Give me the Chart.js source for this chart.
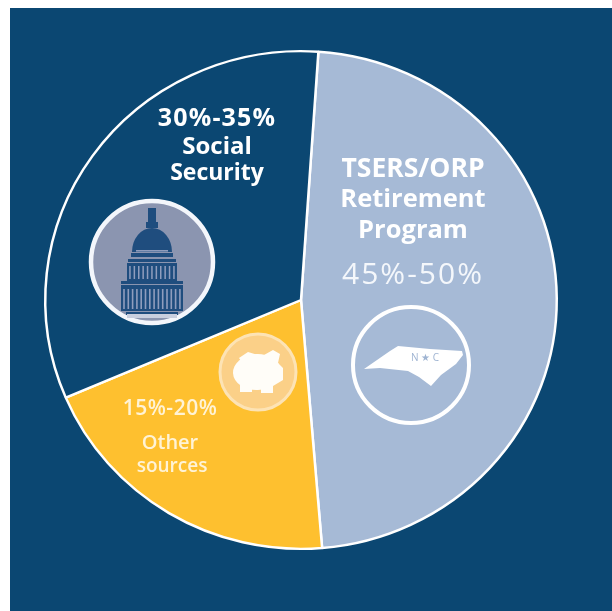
<!DOCTYPE html>
<html>

<head>
    <title>Retirement income sources</title>
    <script src="https://cdn.jsdelivr.net/npm/chart.js"></script>
    <style>
        html, body {
            margin: 0;
            background: #fff;
        }

        .panel {
            position: absolute;
            left: 10px;
            top: 8px;
            width: 602px;
            height: 603px;
            background: #0b4772;
        }

        .chart-wrap {
            position: absolute;
            left: 0;
            top: 0;
            width: 612px;
            height: 611px;
            filter: blur(0.45px);
        }
    </style>
</head>

<body>
    <div class="panel"></div>
    <div class="chart-wrap"><canvas id="myChart"></canvas></div>

    <script>
        // data, clockwise from the top
        const categories = ["TSERS/ORP Retirement Program", "Other sources", "Social Security"];
        const shares = [47.6, 19.9, 32.5];
        const ranges = ["45%-50%", "15%-20%", "30%-35%"];
        const nameLines = [["TSERS/ORP", "Retirement", "Program"], ["Other", "sources"], ["Social", "Security"]];
        const colors = ["#a6bad6", "#fec02f", "#0b4772"];

        const font = '"Open Sans", sans-serif';

        function label(ctx, text, x, y, size, weight, color, spacing) {
            ctx.font = weight + " " + size + "px " + font;
            ctx.letterSpacing = (spacing || 0) + "px";
            ctx.fillStyle = color || "#ffffff";
            ctx.textAlign = "center";
            ctx.textBaseline = "middle";
            ctx.fillText(text, x, y);
            ctx.letterSpacing = "0px";
        }

        function poly(ctx, pts) {
            ctx.beginPath();
            pts.forEach((p, i) => i ? ctx.lineTo(p[0], p[1]) : ctx.moveTo(p[0], p[1]));
            ctx.closePath();
            ctx.fill();
        }

        function ring(ctx, x, y, r, fill, stroke, width) {
            ctx.beginPath();
            ctx.arc(x, y, r, 0, Math.PI * 2);
            if (fill) {
                ctx.fillStyle = fill;
                ctx.fill();
            }
            ctx.lineWidth = width;
            ctx.strokeStyle = stroke;
            ctx.stroke();
        }

        // icon drawn around its own middle
        function capitol(ctx, x, y) {
            const navy = "#1f4d7e";
            ctx.save();
            ctx.translate(x, y);
            ring(ctx, 0, 0, 61, "#8b95b0", "#f3f6fb", 4.5);
            ctx.fillStyle = navy;
            ctx.fillRect(-4, -54, 8, 16);
            ctx.fillRect(-6, -40, 12, 6);
            ctx.beginPath();
            ctx.ellipse(0, -10, 20, 24, 0, Math.PI, 0);
            ctx.closePath();
            ctx.fill();
            ctx.fillRect(-21, -9, 42, 4);
            ctx.fillRect(-24, -3, 48, 3);
            ctx.fillRect(-25, 1, 50, 18);
            ctx.fillRect(-31, 19, 62, 3);
            ctx.fillRect(-31, 23, 62, 26);
            ctx.fillRect(-26, 50, 52, 3);
            // columns
            ctx.fillStyle = "#8f9dbd";
            for (let i = -22; i <= 22; i += 4.4) ctx.fillRect(i - 0.8, 4, 1.5, 13);
            for (let i = -28; i <= 28; i += 4.3) ctx.fillRect(i - 0.8, 27, 1.6, 20);
            ctx.fillRect(-16, -12, 32, 1.6);
            ctx.fillStyle = "#c9cfdf";
            ctx.fillRect(-25, 52, 50, 4);
            ctx.restore();
        }

        function piggy(ctx, x, y) {
            ctx.save();
            ctx.translate(x, y);
            ring(ctx, 0, 0, 38, "#fbd088", "#fde3b4", 3);
            ctx.fillStyle = "#fffdf8";
            ctx.beginPath();
            ctx.ellipse(-1, 0, 24, 18, -0.05, 0, Math.PI * 2);
            ctx.fill();
            poly(ctx, [[6, -17], [15, -22], [22, -18], [20, -9], [25, -4], [25, 8], [15, 14], [4, 10]]);
            poly(ctx, [[-19, -14], [-10, -20], [0, -17], [0, -10], [-15, -8]]);
            ctx.fillRect(-18, 8, 12, 12);
            ctx.fillRect(3, 8, 12, 13);
            ctx.restore();
        }

        function ncState(ctx, x, y) {
            ctx.save();
            ctx.translate(x, y);
            ring(ctx, 0, 0, 58, null, "#ffffff", 4);
            ctx.fillStyle = "#ffffff";
            poly(ctx, [[-47, 4], [-21, -14], [-13, -19], [19, -16], [51, -14], [52, -10], [45, -1], [30, 10], [20, 21],
                [8, 12], [-3, 6], [-31, 3]]);
            ctx.restore();
            label(ctx, "N \u2605 C", x + 14, y - 7, 10, "400", "#9fb4d2");
        }

        // the reference pie is slightly flatter than a circle
        const flatten = {
            id: "flatten",
            beforeDatasetsDraw(chart) {
                const arc = chart.getDatasetMeta(0).data[0];
                chart.ctx.save();
                chart.ctx.translate(arc.x, arc.y);
                chart.ctx.scale(1, 0.973);
                chart.ctx.translate(-arc.x, -arc.y);
            },
            afterDatasetsDraw(chart) {
                chart.ctx.restore();
            }
        };

        const overlay = {
            id: "overlay",
            afterDraw(chart) {
                const ctx = chart.ctx;
                const arc = chart.getDatasetMeta(0).data[0];
                const cx = arc.x, cy = arc.y;
                ctx.save();

                label(ctx, ranges[2], cx - 84, cy - 181, 25, "700", null, 1.2);
                label(ctx, nameLines[2][0], cx - 84, cy - 153, 24, "700");
                label(ctx, nameLines[2][1], cx - 84, cy - 127, 23, "700");
                capitol(ctx, cx - 149, cy - 38);

                label(ctx, nameLines[0][0], cx + 112, cy - 131, 26.5, "700");
                label(ctx, nameLines[0][1], cx + 112, cy - 100, 25.5, "700");
                label(ctx, nameLines[0][2], cx + 112, cy - 69, 25.5, "700");
                label(ctx, ranges[0], cx + 112, cy - 25, 30, "500", "#f4f7fb", 2);
                ncState(ctx, cx + 110, cy + 65);

                piggy(ctx, cx - 43, cy + 72);
                label(ctx, ranges[1], cx - 131, cy + 109, 21, "600", "#fff3d6", 0.5);
                label(ctx, nameLines[1][0], cx - 131, cy + 143, 20, "600", "#fff3d6");
                label(ctx, nameLines[1][1], cx - 129, cy + 167, 19, "600", "#fff3d6");

                ctx.restore();
            }
        };

        window.addEventListener("load", (event) => {
            new Chart(document.getElementById("myChart"), {
                type: "pie",
                data: {
                    labels: categories,
                    datasets: [{
                        data: shares,
                        backgroundColor: colors,
                        borderColor: "#ffffff",
                        borderWidth: 2.5,
                    }],
                },
                options: {
                    responsive: true,
                    maintainAspectRatio: false,
                    animation: false,
                    rotation: 3.9,
                    layout: {
                        padding: { left: 44, right: 54, top: 43, bottom: 54 },
                    },
                    plugins: {
                        legend: { display: false },
                        tooltip: { enabled: false },
                    },
                },
                plugins: [flatten, overlay],
            });
        });
    </script>
</body>

</html>
